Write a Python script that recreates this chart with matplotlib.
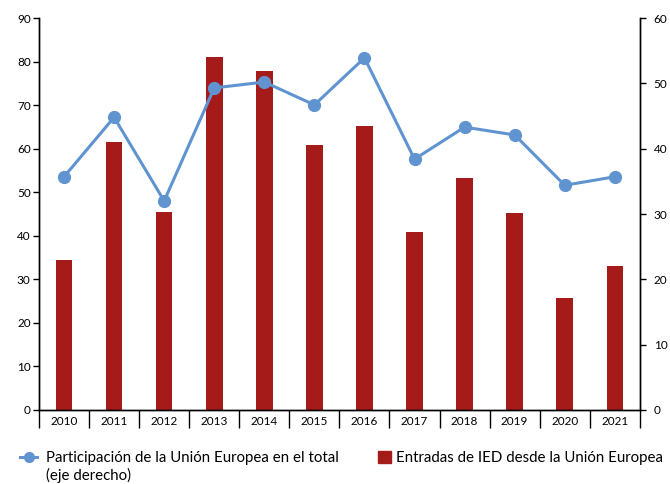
import matplotlib.pyplot as plt
import numpy as np
from matplotlib.lines import Line2D
from matplotlib.patches import Patch

plt.rcParams['font.family'] = ['Lato', 'DejaVu Sans']

years = ['2010', '2011', '2012', '2013', '2014', '2015', '2016', '2017', '2018', '2019', '2020', '2021']
# Entradas de IED desde la Unión Europea (left axis)
ied_ue = [34.4, 61.5, 45.5, 81.0, 77.8, 60.8, 65.2, 40.9, 53.3, 45.2, 25.7, 33.1]
# Participación de la UE en el total, % (right axis)
part_ue = [35.7, 44.8, 32.0, 49.3, 50.2, 46.7, 53.9, 38.4, 43.3, 42.1, 34.4, 35.7]

bar_color = '#a51b1a'
line_color = '#5f94d1'

fig = plt.figure(figsize=(6.7, 4.84), dpi=100)
ax = fig.add_axes([0.0582, 0.1529, 0.8968, 0.8099])
ax2 = ax.twinx()

x = np.arange(len(years))
ax.bar(x, ied_ue, width=0.33, color=bar_color, zorder=2)
ax2.plot(x, part_ue, color=line_color, lw=2.2, marker='o', markersize=8.5, zorder=3)

ax.set_xlim(-0.5, len(years) - 0.5)
ax.set_ylim(0, 90)
ax2.set_ylim(0, 60)
ax.set_yticks(np.arange(0, 91, 10))
ax2.set_yticks(np.arange(0, 61, 10))

# category dividers as major ticks, labels on minor ticks
ax.set_xticks(np.arange(-0.5, len(years), 1))
ax.set_xticklabels([])
ax.set_xticks(x, minor=True)
ax.set_xticklabels(years, minor=True)
ax.tick_params(axis='x', which='major', length=13, width=1, color='black')
ax.tick_params(axis='x', which='minor', length=0, pad=4, labelsize=8.5)
ax.tick_params(axis='y', length=4, width=1, labelsize=8.5, pad=2)
ax2.tick_params(axis='y', length=4, width=1, labelsize=8.5, pad=6)

for a in (ax, ax2):
    a.spines['top'].set_visible(False)
    for s in a.spines.values():
        s.set_linewidth(1)
ax.patch.set_visible(False)
ax2.set_zorder(ax.get_zorder() + 1)

leg_kw = dict(loc='center left', frameon=False, fontsize=10.8,
              handleheight=0.9, borderaxespad=0, borderpad=0)
leg1 = fig.legend([Line2D([0], [0], color=line_color, lw=2.2, marker='o', markersize=7)],
                  ['Participación de la Unión Europea en el total'],
                  bbox_to_anchor=(0.0299, 0.0537), handlelength=1.15, handletextpad=0.6,
                  **leg_kw)
leg2 = fig.legend([Patch(color=bar_color)],
                  ['Entradas de IED desde la Unión Europea'],
                  bbox_to_anchor=(0.564, 0.0537), handlelength=0.9, handletextpad=0.3,
                  **leg_kw)

fig.canvas.draw()
x0 = leg1.get_texts()[0].get_window_extent().x0 / fig.bbox.width
fig.text(x0, 0.0537 - 0.036, '(eje derecho)', fontsize=10.8, ha='left', va='center')

fig.savefig('out.png', dpi=100)
